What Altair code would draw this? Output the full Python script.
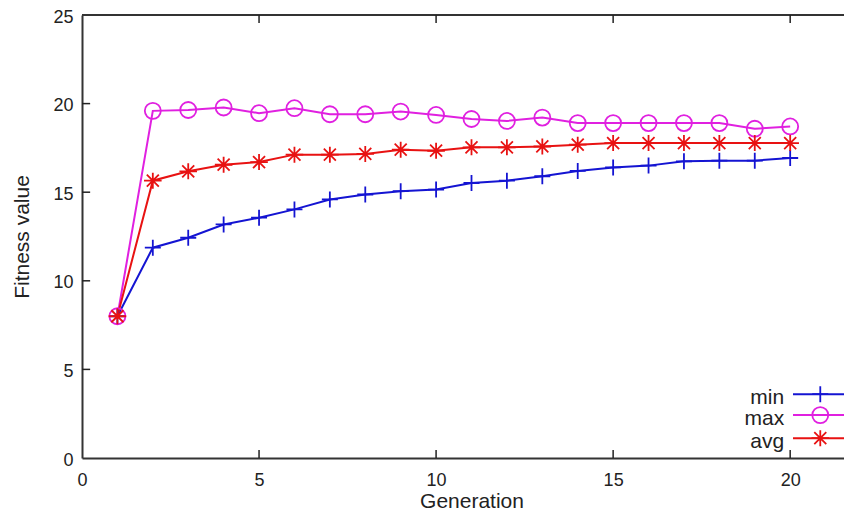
import altair as alt
import pandas as pd

generations = list(range(1, 21))
min_vals = [8.0, 11.87, 12.43, 13.18, 13.56, 14.03, 14.59, 14.87, 15.06, 15.15,
            15.52, 15.65, 15.9, 16.2, 16.4, 16.5, 16.74, 16.78, 16.78, 16.93]
max_vals = [8.0, 19.59, 19.64, 19.78, 19.46, 19.74, 19.4, 19.4, 19.55, 19.36,
            19.13, 19.02, 19.21, 18.9, 18.9, 18.9, 18.9, 18.9, 18.58, 18.71]
avg_vals = [8.0, 15.65, 16.18, 16.55, 16.7, 17.12, 17.12, 17.16, 17.4, 17.34,
            17.53, 17.53, 17.58, 17.68, 17.77, 17.77, 17.77, 17.77, 17.77, 17.77]

series_names = ["min", "max", "avg"]
series_colors = ["#1414d2", "#e020e0", "#e81212"]
plus_path = "M-1,0L1,0M0,-1L0,1"
star_path = "M-1.1,0L1.1,0M0,-1L0,1M-0.75,-0.75L0.75,0.75M-0.75,0.75L0.75,-0.75"
series_shapes = [plus_path, "circle", star_path]

x_ticks = [5, 10, 15, 20]
y_ticks = [5, 10, 15, 20]
x_max = 21.52
y_max = 25

rows = []
for name, vals in zip(series_names, [min_vals, max_vals, avg_vals]):
    for g, v in zip(generations, vals):
        rows.append({"Generation": g, "value": v, "series": name})
df = pd.DataFrame(rows)

legend_ly = [3.6, 2.42, 1.12]
legend_df = pd.DataFrame({
    "series": series_names,
    "ly": legend_ly,
    "ly_text": [v - 0.56 for v in legend_ly],
    "lx_text": [19.83] * 3,
    "lx1": [20.08] * 3,
    "lx2": [x_max] * 3,
    "lx_mark": [20.85] * 3,
})

font = "Liberation Sans"
xs = alt.Scale(domain=[0, x_max], nice=False, zero=False)
ys = alt.Scale(domain=[0, y_max], nice=False)
color = alt.Color("series:N", scale=alt.Scale(domain=series_names, range=series_colors), legend=None)
shape = alt.Shape("series:N", scale=alt.Scale(domain=series_names, range=series_shapes), legend=None)

base = alt.Chart(df)
lines = base.mark_line(strokeWidth=2).encode(
    x=alt.X("Generation:Q", scale=xs,
            axis=alt.Axis(values=[0] + x_ticks, title="Generation", ticks=False,
                          labelPadding=13, grid=False, labelFlush=False,
                          titleX=389.5, titleY=49, titleAlign="center",
                          titleBaseline="alphabetic")),
    y=alt.Y("value:Q", scale=ys,
            axis=alt.Axis(values=[0] + y_ticks + [25], title="Fitness value", ticks=False,
                          labelPadding=9, grid=False, labelFlush=False, labelOffset=2,
                          labelBaseline="middle",
                          titleX=-54, titleY=221.5, titleAlign="center",
                          titleBaseline="alphabetic")),
    color=color,
    detail="series:N",
)
points = base.mark_point(filled=False, strokeWidth=1.8, size=256, opacity=1).encode(
    x=alt.X("Generation:Q", scale=xs),
    y=alt.Y("value:Q", scale=ys),
    color=color,
    shape=shape,
)

tick_df = pd.DataFrame({"t": x_ticks})
ytick_df = pd.DataFrame({"t": y_ticks})
bottom_ticks = alt.Chart(tick_df).mark_rule(color="#222", strokeWidth=1.5).encode(
    x=alt.X("t:Q", scale=xs), y=alt.datum(0), y2=alt.datum(0.45))
top_ticks = alt.Chart(tick_df).mark_rule(color="#222", strokeWidth=1.5).encode(
    x=alt.X("t:Q", scale=xs), y=alt.datum(y_max), y2=alt.datum(y_max - 0.45))
left_ticks = alt.Chart(ytick_df).mark_rule(color="#222", strokeWidth=1.5).encode(
    y=alt.Y("t:Q", scale=ys), x=alt.datum(0), x2=alt.datum(0.23))
top_line = alt.Chart(pd.DataFrame({"a": [0]})).mark_rule(color="#333", strokeWidth=2).encode(
    x=alt.datum(0), x2=alt.datum(x_max), y=alt.datum(y_max))

leg_text = alt.Chart(legend_df).mark_text(align="right", baseline="alphabetic", font=font,
                                          fontSize=21, color="#222").encode(
    x=alt.X("lx_text:Q", scale=xs), y=alt.Y("ly_text:Q", scale=ys), text="series:N")
leg_line = alt.Chart(legend_df).mark_rule(strokeWidth=2).encode(
    x=alt.X("lx1:Q", scale=xs), x2="lx2:Q", y=alt.Y("ly:Q", scale=ys), color=color)
leg_pt = alt.Chart(legend_df).mark_point(filled=False, strokeWidth=1.8, size=256, opacity=1).encode(
    x=alt.X("lx_mark:Q", scale=xs), y=alt.Y("ly:Q", scale=ys), color=color, shape=shape)

chart = alt.layer(
    top_line, bottom_ticks, top_ticks, left_ticks, lines, points, leg_line, leg_pt, leg_text
).properties(
    width=762, height=443, background="white",
    autosize=alt.AutoSizeParams(type="none"),
    padding={"left": 74, "top": 7, "right": 0, "bottom": 54}
).configure_view(stroke=None).configure_axis(
    labelFont=font, labelFontSize=18, labelColor="#222",
    titleFont=font, titleFontSize=21, titleFontWeight="normal", titleColor="#222",
    domainColor="#333", domainWidth=2,
)

chart.save("out.html", embed_options={"renderer": "svg", "actions": False})
